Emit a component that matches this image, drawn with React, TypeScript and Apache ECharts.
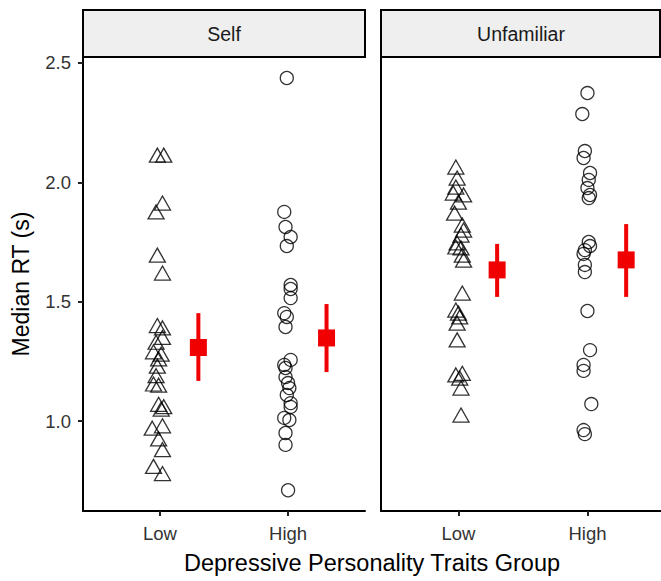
import React, { useEffect, useRef } from "react";
import * as echarts from "echarts";

const panels = ["Self", "Unfamiliar"];
const groups = ["Low", "High"];
const yTicks = [1.0, 1.5, 2.0, 2.5];
const xTitle = "Depressive Personality Traits Group";
const yTitle = "Median RT (s)";

// Self / Low (triangles)
const selfLowRT = [2.114, 2.114, 1.913, 1.876, 1.695, 1.62, 1.40, 1.39, 1.35, 1.33, 1.29, 1.28, 1.26, 1.23, 1.19, 1.155, 1.15, 1.07, 1.06, 1.05, 0.98, 0.97, 0.925, 0.88, 0.81, 0.78];
const selfLowJitter = [-0.02, 0.03, 0.02, -0.03, -0.02, 0.02, -0.02, 0.02, 0.02, -0.03, -0.05, 0.01, -0.01, -0.02, -0.03, -0.05, -0.01, -0.01, 0.03, 0.01, 0.02, -0.06, -0.01, 0.02, -0.05, 0.02];
// Self / High (circles)
const selfHighRT = [2.437, 1.876, 1.813, 1.771, 1.733, 1.57, 1.553, 1.515, 1.452, 1.436, 1.394, 1.256, 1.235, 1.222, 1.184, 1.159, 1.138, 1.109, 1.075, 1.059, 1.013, 1.004, 0.95, 0.90, 0.71];
const selfHighJitter = [-0.01, -0.03, -0.02, 0.02, -0.01, 0.02, 0.02, 0.02, -0.03, -0.01, -0.02, 0.02, -0.03, -0.02, -0.02, 0, 0.01, -0.01, 0.02, 0.02, -0.03, 0.01, -0.02, -0.02, 0];
// Unfamiliar / Low (triangles)
const unfLowRT = [2.064, 2.018, 1.98, 1.955, 1.947, 1.917, 1.871, 1.821, 1.80, 1.779, 1.746, 1.729, 1.725, 1.695, 1.674, 1.536, 1.465, 1.452, 1.436, 1.41, 1.34, 1.20, 1.193, 1.18, 1.138, 1.025];
const unfLowJitter = [-0.02, -0.01, -0.02, -0.04, 0.04, 0, -0.03, 0.03, 0.04, 0.02, -0.01, -0.02, 0.02, 0.03, 0.04, 0.03, -0.02, 0, 0.01, -0.01, -0.01, 0.03, -0.02, 0.01, 0.02, 0.02];
// Unfamiliar / High (circles)
const unfHighRT = [2.374, 2.286, 2.131, 2.102, 2.039, 2.01, 1.976, 1.947, 1.934, 1.75, 1.733, 1.716, 1.70, 1.654, 1.624, 1.461, 1.297, 1.235, 1.21, 1.071, 0.962, 0.945];
const unfHighJitter = [0, -0.04, -0.02, -0.03, 0.02, 0.01, 0, 0.02, 0.01, 0.01, 0.02, -0.02, -0.03, -0.02, -0.02, 0, 0.02, -0.03, -0.03, 0.03, -0.03, -0.02];

// Means and error bars [Low, High] per panel
const meanSelf = [1.308, 1.348];
const lowerSelf = [1.168, 1.205];
const upperSelf = [1.452, 1.49];
const meanUnf = [1.633, 1.675];
const lowerUnf = [1.52, 1.52];
const upperUnf = [1.742, 1.825];

const FONT = "'Liberation Sans', Arial, sans-serif";
const RED = "#F00000";

export default function App() {
  const ref = useRef<HTMLDivElement>(null);
  useEffect(() => {
    document.body.style.margin = "0";
    const chart = echarts.init(ref.current!, null, { renderer: "svg" });

    const grids = [
      { left: 83, top: 57, width: 282, height: 454 },
      { left: 381, top: 57, width: 280, height: 454 },
    ];
    const xMax = [2.6, 2.57];

    const xAxes = grids.map((_, i) => ({
      type: "value",
      gridIndex: i,
      min: 0.4,
      max: xMax[i],
      splitLine: { show: false },
      axisLine: { show: true, onZero: false, lineStyle: { color: "#000", width: 2 } },
      axisTick: { show: true, length: 5, lineStyle: { color: "#222", width: 2 }, customValues: [1, 2] },
      axisLabel: {
        show: true,
        customValues: [1, 2],
        formatter: (v: number) => groups[Math.round(v) - 1] ?? "",
        fontSize: 18.5,
        color: "#333",
        fontFamily: FONT,
        margin: 13,
      },
    }));

    const yAxes = grids.map((_, i) => ({
      type: "value",
      gridIndex: i,
      min: 0.623,
      max: 2.525,
      splitLine: { show: false },
      axisLine: { show: true, onZero: false, lineStyle: { color: "#000", width: 2 } },
      axisTick: { show: i === 0, length: 5, lineStyle: { color: "#222", width: 2 }, customValues: yTicks },
      axisLabel: {
        show: i === 0,
        customValues: yTicks,
        formatter: (v: number) => v.toFixed(1),
        fontSize: 18.5,
        color: "#333",
        fontFamily: FONT,
        margin: 12,
      },
      name: i === 0 ? yTitle : "",
      nameLocation: "middle",
      nameGap: 51,
      nameTextStyle: { fontSize: 23, color: "#000", fontFamily: FONT },
    }));

    const pts = (vals: number[], jit: number[], base: number) =>
      vals.map((v, k) => [base + jit[k], v]);

    const triStyle = {
      symbol: "triangle",
      symbolSize: [16, 14],
      itemStyle: { color: "rgba(0,0,0,0)", borderColor: "#000", borderWidth: 1.3 },
    };
    const circStyle = {
      symbol: "circle",
      symbolSize: 13,
      itemStyle: { color: "rgba(0,0,0,0)", borderColor: "#000", borderWidth: 1.3 },
    };

    const errSeries = (p: number, means: number[], lo: number[], hi: number[]) => ({
      type: "custom",
      xAxisIndex: p,
      yAxisIndex: p,
      z: 5,
      data: means.map((m, i) => [i + 1.3, m, lo[i], hi[i]]),
      encode: { x: 0, y: 1 },
      renderItem: (_params: any, api: any) => {
        const x = api.value(0);
        const top = api.coord([x, api.value(3)]);
        const bot = api.coord([x, api.value(2)]);
        const mid = api.coord([x, api.value(1)]);
        return {
          type: "group",
          children: [
            { type: "line", shape: { x1: top[0], y1: top[1], x2: bot[0], y2: bot[1] }, style: { stroke: RED, lineWidth: 4 } },
            { type: "rect", shape: { x: mid[0] - 8.5, y: mid[1] - 8.5, width: 17, height: 17 }, style: { fill: RED } },
          ],
        };
      },
    });

    const strips = panels.map((name, i) => ({
      type: "group",
      children: [
        {
          type: "rect",
          shape: { x: grids[i].left, y: 10, width: grids[i].width - (i === 1 ? 1 : 0), height: 47 },
          style: { fill: "#EFEFEF", stroke: "#000", lineWidth: 2 },
        },
        {
          type: "text",
          x: grids[i].left + grids[i].width / 2,
          y: 34,
          style: { text: name, fontSize: 19.5, fontWeight: "normal", fontFamily: FONT, fill: "#1a1a1a", align: "center", verticalAlign: "middle" },
        },
      ],
    }));

    chart.setOption({
      animation: false,
      backgroundColor: "#fff",
      grid: grids,
      xAxis: xAxes,
      yAxis: yAxes,
      graphic: [
        ...strips,
        {
          type: "text",
          x: 372,
          y: 563,
          style: { text: xTitle, fontSize: 23.5, fontFamily: FONT, fill: "#000", align: "center", verticalAlign: "middle" },
        },
      ],
      series: [
        { type: "scatter", xAxisIndex: 0, yAxisIndex: 0, data: pts(selfLowRT, selfLowJitter, 1), ...triStyle },
        { type: "scatter", xAxisIndex: 0, yAxisIndex: 0, data: pts(selfHighRT, selfHighJitter, 2), ...circStyle },
        { type: "scatter", xAxisIndex: 1, yAxisIndex: 1, data: pts(unfLowRT, unfLowJitter, 1), ...triStyle },
        { type: "scatter", xAxisIndex: 1, yAxisIndex: 1, data: pts(unfHighRT, unfHighJitter, 2), ...circStyle },
        errSeries(0, meanSelf, lowerSelf, upperSelf),
        errSeries(1, meanUnf, lowerUnf, upperUnf),
      ],
    });
    return () => chart.dispose();
  }, []);
  return <div ref={ref} style={{ width: 661, height: 581 }} />;
}
